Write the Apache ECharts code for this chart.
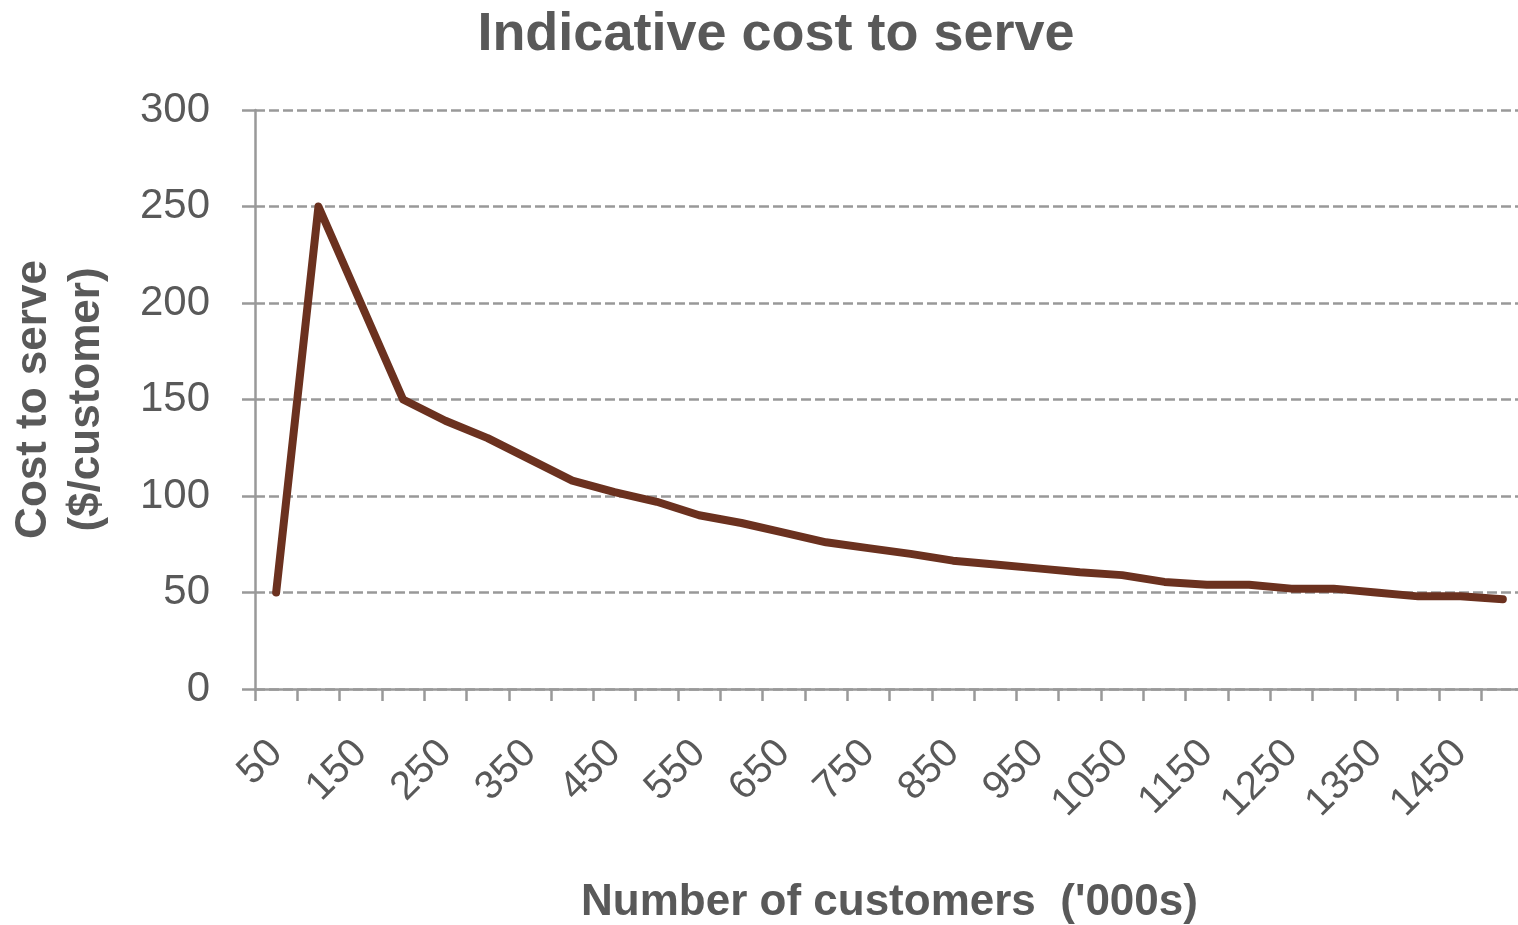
<!DOCTYPE html>
<html>
<head>
<meta charset="utf-8">
<title>Indicative cost to serve</title>
<script src="https://cdn.jsdelivr.net/npm/echarts@6/dist/echarts.min.js"></script>
<style>
  html, body { margin: 0; padding: 0; background: #ffffff; }
  #chart { width: 1518px; height: 925px; }
</style>
</head>
<body>
<div id="chart"></div>
<script>
// Number of customers ('000s)
const customers = [50, 100, 150, 200, 250, 300, 350, 400, 450, 500,
  550, 600, 650, 700, 750, 800, 850, 900, 950, 1000,
  1050, 1100, 1150, 1200, 1250, 1300, 1350, 1400, 1450, 1500];

// Cost to serve ($/customer)
const costPerCustomer = [50, 250, 200, 150, 139, 130, 119, 108, 102, 97,
  90, 86, 81, 76, 73, 70, 66.5, 64.5, 62.5, 60.5,
  59, 55.5, 54, 54, 52, 52, 50, 48, 48, 46.5];

const yTicks = { min: 0, max: 300, interval: 50 };

const FONT = '"Liberation Sans", Arial, sans-serif';
const TEXT = '#595959';
const AXIS = '#999999';

const chart = echarts.init(document.getElementById('chart'), null, { renderer: 'canvas' });

chart.setOption({
  animation: false,
  backgroundColor: '#ffffff',
  title: {
    text: 'Indicative cost to serve',
    left: 771,
    top: 3,
    textAlign: 'center',
    textStyle: { fontFamily: FONT, fontSize: 54, fontWeight: 'bold', color: TEXT }
  },
  grid: {
    left: 255, top: 110, width: 1269, bottom: 236,
    containLabel: false,
    outerBoundsMode: 'none'
  },
  xAxis: {
    type: 'category',
    data: customers.map(String),
    boundaryGap: true,
    name: "Number of customers  ('000s)",
    nameLocation: 'middle',
    nameGap: 192,
    nameTextStyle: { fontFamily: FONT, fontSize: 44, fontWeight: 'bold', color: TEXT },
    axisLine: { lineStyle: { color: AXIS, width: 2.5 } },
    axisTick: { show: true, interval: 0, length: 12, lineStyle: { color: AXIS, width: 2.5 } },
    axisLabel: {
      interval: 1,
      rotate: 45,
      margin: 58,
      hideOverlap: false,
      fontFamily: FONT, fontSize: 40, color: TEXT
    },
    splitLine: { show: false }
  },
  yAxis: {
    type: 'value',
    min: yTicks.min,
    max: yTicks.max,
    interval: yTicks.interval,
    name: 'Cost to serve\n($/customer)',
    nameLocation: 'middle',
    nameRotate: 90,
    nameGap: 142,
    nameTextStyle: { fontFamily: FONT, fontSize: 44, fontWeight: 'bold', color: TEXT, lineHeight: 53 },
    axisLine: { show: true, lineStyle: { color: AXIS, width: 2.5 } },
    axisTick: { show: true, length: 13, lineStyle: { color: AXIS, width: 2.5 } },
    axisLabel: { margin: 45, fontFamily: FONT, fontSize: 42, color: TEXT },
    splitLine: {
      show: true,
      lineStyle: { color: AXIS, width: 2.5, type: [10, 4] }
    }
  },
  series: [{
    type: 'line',
    data: costPerCustomer,
    symbol: 'none',
    smooth: false,
    lineStyle: { color: '#6B311F', width: 8, cap: 'round', join: 'round' },
    z: 5
  }]
});
</script>
</body>
</html>
